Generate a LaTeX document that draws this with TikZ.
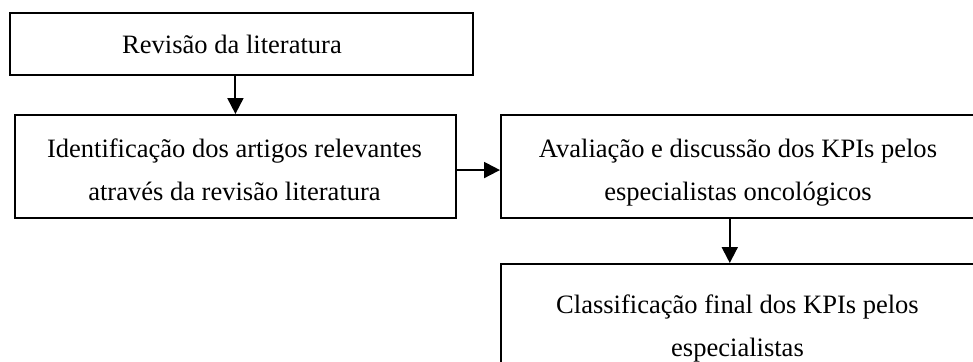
\documentclass[tikz,border=0pt]{standalone}
\usepackage{fontspec}
\setmainfont{Liberation Serif}
\usetikzlibrary{arrows.meta}
\begin{document}
\begin{tikzpicture}[x=0.75pt,y=-0.75pt,
  box/.style={draw=black,line width=1.4pt,rectangle,inner sep=0pt,anchor=north west},
  txt/.style={anchor=base,align=center,inner sep=0pt,font=\fontsize{19.9pt}{32.25pt}\selectfont},
  arr/.style={draw=black,line width=1.5pt,-{Triangle[length=12pt,width=12pt]}}]
\useasboundingbox (0,0) rectangle (973,361);
\clip (0,0) rectangle (973,361);
\node[box,minimum width=463*0.75pt,minimum height=62*0.75pt] (b1) at (9,12) {};
\node[box,minimum width=441*0.75pt,minimum height=103*0.75pt] (b2) at (14,114) {};
\node[box,minimum width=475*0.75pt,minimum height=103*0.75pt] (b3) at (500,114) {};
\node[box,minimum width=475*0.75pt,minimum height=115*0.75pt] (b4) at (500,263) {};
\node[txt] (t1) at (232,53) {Revisão da literatura};
\node[txt] (t2) at (234.5,200) {Identificação dos artigos relevantes\\através da revisão literatura};
\node[txt] (t3) at (738,200) {Avaliação e discussão dos KPIs pelos\\especialistas oncológicos};
\node[txt] (t4) at (737.5,356) {Classificação final dos KPIs pelos\\especialistas};
\draw[arr] (b1.south -| b2.north) -- (b2.north);
\draw[arr] ([yshift=-2.7]b2.east) -- ([yshift=-2.7]b3.west);
\draw[arr] ([xshift=-6.5]b3.south) -- ([xshift=-6.5]b4.north);
\end{tikzpicture}
\end{document}
